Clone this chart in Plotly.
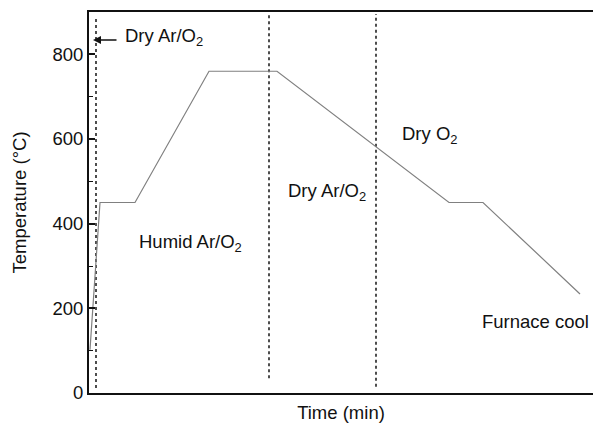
import plotly.graph_objects as go

# Temperature profile (time in arbitrary minutes, temperature in °C)
time_min = [0.5, 5.5, 23, 60, 94, 180, 197, 245.5]
temperature_c = [102, 450, 450, 760, 760, 450, 450, 234]

# Gas-switch boundaries (time)
switch_times = [3.5, 90, 143.5]
switch_top = [885, 895, 895]
switch_bottom = [12, 35, 15]

# Region labels
label_text = ["Humid Ar/O<sub>2</sub>", "Dry Ar/O<sub>2</sub>", "Dry O<sub>2</sub>", "Furnace cool"]
label_x = [50.5, 119, 170.5, 251]
label_y = [355, 475, 609, 168]
label_anchor = ["center", "center", "center", "right"]

y_ticks = [0, 200, 400, 600, 800]

FONT = "Liberation Sans, Arial, sans-serif"
FS = 18.5

fig = go.Figure()

for t, y0, y1 in zip(switch_times, switch_bottom, switch_top):
    fig.add_trace(go.Scatter(x=[t, t], y=[y0, y1], mode="lines",
                             line=dict(color="#222", width=1.6, dash="3px,3px"),
                             hoverinfo="skip", showlegend=False))

fig.add_trace(go.Scatter(x=time_min, y=temperature_c, mode="lines",
                         line=dict(color="#808080", width=1.2),
                         showlegend=False))

for txt, x, y, anc in zip(label_text, label_x, label_y, label_anchor):
    fig.add_annotation(x=x, y=y, text=txt, showarrow=False,
                       font=dict(size=FS, color="#111", family=FONT),
                       xanchor=anc, yanchor="middle")

# Top Dry Ar/O2 label with arrow
fig.add_annotation(x=17, y=840, text="Dry Ar/O<sub>2</sub>", showarrow=False,
                   font=dict(size=FS, color="#111", family=FONT),
                   xanchor="left", yanchor="middle")
fig.add_annotation(x=switch_times[0] - 1.5, y=834, ax=25, ay=0, text="",
                   showarrow=True, arrowhead=2, arrowsize=1, arrowwidth=1.6,
                   arrowcolor="#111")

fig.update_layout(
    width=593, height=425,
    margin=dict(l=89, r=0, t=12, b=32),
    paper_bgcolor="white", plot_bgcolor="white",
    font=dict(family=FONT, size=FS, color="#111"),
    xaxis=dict(range=[0, 252], showgrid=False, zeroline=False,
               showticklabels=False, ticks="",
               showline=True, linecolor="#111", linewidth=2, mirror=True,
               automargin=False,
               title=dict(text="Time (min)", font=dict(size=FS), standoff=12)),
    yaxis=dict(range=[0, 900], showgrid=False, zeroline=False,
               tickvals=y_ticks, ticks="inside", ticklen=6, tickwidth=1.5,
               tickcolor="#111", tickfont=dict(size=FS),
               minor=dict(dtick=100, tick0=0, ticks="inside", ticklen=4,
                          tickwidth=1.2, tickcolor="#111"),
               showline=True, linecolor="#111", linewidth=2,
               automargin=False,
               title=dict(text="Temperature (°C)", font=dict(size=FS), standoff=21)),
)

# remove the default page margin so the figure fills the window exactly
fig.write_html("out.html",
               config={"displayModeBar": False},
               post_script="document.body.style.margin='0';document.body.style.overflow='hidden';")
